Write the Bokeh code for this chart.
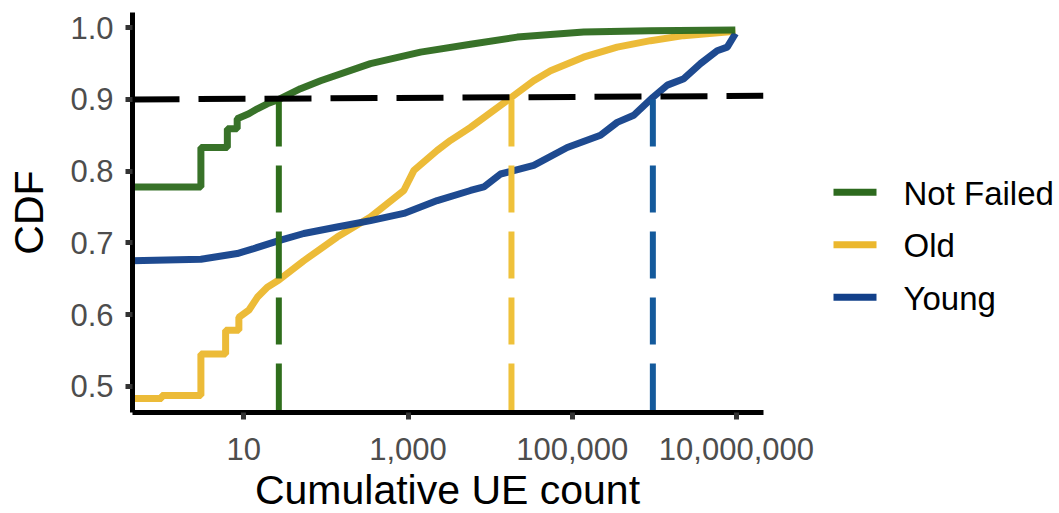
from bokeh.plotting import figure
from bokeh.layouts import column, row
from bokeh.models import (FixedTicker, NumeralTickFormatter, PrintfTickFormatter,
                          Range1d, Div)
from bokeh.core.properties import value
from bokeh.embed import file_html
from bokeh.resources import INLINE

# ---- data ----
series_names = ["Not Failed", "Old", "Young"]
series_colors = ["#2D6A1E", "#EBB72D", "#12408A"]
thr_colors = ["#2F6E1C", "#EFC13A", "#145A9C"]

nf_x = [0.4, 3.0, 3.0, 6.3, 6.3, 8.3, 8.3, 11.5, 14.6, 19.3, 26.7, 49, 86, 349,
        1420, 5770, 21400, 138000, 890000, 9.7e6]
nf_y = [0.778, 0.778, 0.833, 0.833, 0.859, 0.859, 0.873, 0.880, 0.887, 0.894,
        0.900, 0.915, 0.926, 0.950, 0.966, 0.977, 0.987, 0.994, 0.996, 0.997]

old_x = [0.4, 1.0, 1.0, 3.0, 3.0, 6.0, 6.0, 8.7, 8.7, 11.5, 14.6, 19.3, 26.7, 53.8,
         137, 349, 889, 1180, 2270, 3300, 5770, 18200, 33900, 54500, 137000,
         353000, 898000, 2.27e6, 9.7e6]
old_y = [0.483, 0.483, 0.487, 0.487, 0.545, 0.545, 0.578, 0.578, 0.596, 0.606,
         0.624, 0.638, 0.648, 0.675, 0.708, 0.736, 0.773, 0.801, 0.829, 0.843,
         0.861, 0.903, 0.926, 0.940, 0.959, 0.973, 0.982, 0.989, 0.995]

young_x = [0.4, 3.0, 8.3, 13.2, 26.7, 53.8, 137, 349, 889, 2270, 5770, 8380, 13400,
           34000, 86900, 221000, 353000, 562000, 960000, 1.44e6, 2.29e6, 3.65e6,
           5.83e6, 7.73e6, 9.75e6]
young_y = [0.675, 0.677, 0.685, 0.692, 0.703, 0.713, 0.722, 0.731, 0.741, 0.759,
           0.773, 0.778, 0.796, 0.808, 0.833, 0.850, 0.868, 0.878, 0.903, 0.920,
           0.929, 0.950, 0.968, 0.973, 0.992]

thr_x = [26.7, 18200, 960000]
thr_level = 0.9
ref_y = [0.9, 0.905]

x_ticks = [10, 1000, 100000, 10000000]
y_ticks = [0.5, 0.6, 0.7, 0.8, 0.9, 1.0]
x_title = "Cumulative UE count"
y_title = "CDF"

x_lo, x_hi = 10 ** -0.356, 10 ** 7.33
y_lo, y_hi = 0.4633, 1.0213

FONT = "Liberation Sans"

# ---- main plot ----
p = figure(width=820, height=478, x_axis_type="log",
           x_range=Range1d(x_lo, x_hi), y_range=Range1d(y_lo, y_hi),
           output_backend="svg", toolbar_location=None,
           min_border_left=132, min_border_right=57,
           min_border_top=12, min_border_bottom=66)
p.outline_line_color = None
p.xgrid.visible = False
p.ygrid.visible = False
p.background_fill_color = "white"
p.border_fill_color = "white"

p.line(old_x, old_y, line_color=series_colors[1], line_width=7, line_alpha=0.95)
p.line(young_x, young_y, line_color=series_colors[2], line_width=7, line_alpha=0.95)
p.line(nf_x, nf_y, line_color=series_colors[0], line_width=7, line_alpha=0.95)

for xv, c in zip(thr_x, thr_colors):
    p.line([xv, xv], [thr_level, y_lo - 0.05], line_color=c, line_width=6,
           line_dash="47 19")

p.line([x_lo, x_hi], ref_y, line_color="black", line_width=6, line_dash="47 19")

for ax in (p.xaxis[0], p.yaxis[0]):
    ax.axis_line_width = 5
    ax.axis_line_color = "black"
    ax.major_tick_line_width = 5
    ax.major_tick_line_color = "#333333"
    ax.major_tick_out = 7
    ax.major_tick_in = 0
    ax.minor_tick_out = 0
    ax.minor_tick_in = 0
    ax.major_label_text_font = FONT
    ax.major_label_text_font_size = "31px"
    ax.major_label_text_color = "#4D4D4D"
    ax.axis_label_text_font = FONT
    ax.axis_label_text_font_size = "41px"
    ax.axis_label_text_font_style = "normal"
    ax.axis_label_text_color = "black"

p.xaxis.ticker = FixedTicker(ticks=x_ticks, minor_ticks=[])
p.xaxis.formatter = NumeralTickFormatter(format="0,0")
p.yaxis.ticker = FixedTicker(ticks=y_ticks, minor_ticks=[])
p.yaxis.formatter = PrintfTickFormatter(format="%.1f")
p.yaxis.axis_label = y_title
p.xaxis.major_label_standoff = 18
p.yaxis.major_label_standoff = 12
p.yaxis.axis_label_standoff = 15

# ---- x-axis title below the plot ----
xlab = Div(text=x_title, width=820, height=35, margin=0,
           styles={"font-family": FONT, "font-size": "41px", "line-height": "24px",
                   "text-align": "center", "padding-left": "75px",
                   "box-sizing": "border-box", "color": "black",
                   "white-space": "nowrap"})

# ---- legend panel ----
lg = figure(width=239, height=513, x_range=Range1d(0, 239), y_range=Range1d(513, 0),
            output_backend="svg", toolbar_location=None,
            min_border=0, min_border_left=0, min_border_right=0,
            min_border_top=0, min_border_bottom=0)
lg.axis.visible = False
lg.grid.visible = False
lg.outline_line_color = None
lg.background_fill_color = "white"
lg.border_fill_color = "white"

key_x0, key_x1, text_x = 13, 56, 83
row_y0, row_step = 191.7, 52.5
for i, (name, col) in enumerate(zip(series_names, series_colors)):
    yy = row_y0 + i * row_step
    lg.line([key_x0, key_x1], [yy, yy], line_color=col, line_width=7)
    lg.text(x=[text_x], y=[yy + 1], text=[name], text_font=value(FONT),
            text_font_size="33px", text_color="black", text_baseline="middle",
            text_align="left")

layout = row(column(p, xlab, spacing=0), lg, spacing=0)

open("out.html", "w").write(file_html(layout, INLINE))
